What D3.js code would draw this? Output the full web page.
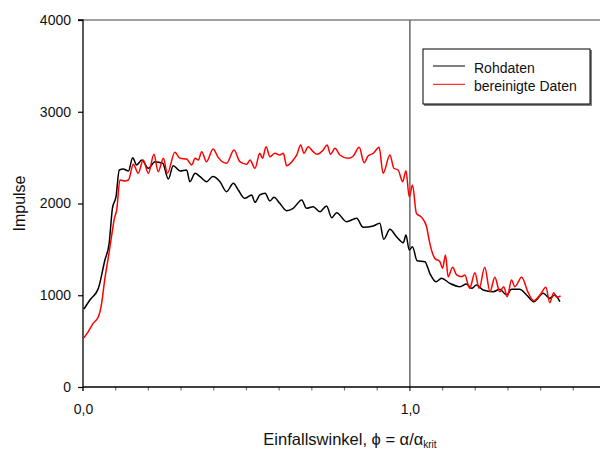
<!DOCTYPE html>
<html>
<head>
<meta charset="utf-8">
<script src="https://cdn.jsdelivr.net/npm/d3@7"></script>
<style>
  html, body { margin: 0; padding: 0; background: #fff; }
  svg { display: block; font-family: "Liberation Sans", Arial, sans-serif; }
</style>
</head>
<body>
<svg id="chart" width="600" height="450"></svg>
<script>
// Incidence angle (phi = alpha / alpha_crit) and counts for the raw measurement
const rawPhi = [0.003,0.021,0.047,0.067,0.080,0.090,0.101,0.111,0.123,0.139,0.152,0.164,0.180,0.200,0.220,0.244,0.261,0.276,0.297,0.317,0.327,0.343,0.358,0.378,0.397,0.419,0.439,0.460,0.475,0.495,0.516,0.526,0.541,0.557,0.572,0.584,0.602,0.623,0.643,0.669,0.684,0.704,0.725,0.745,0.761,0.776,0.806,0.837,0.857,0.888,0.908,0.920,0.939,0.959,0.980,0.988,0.998,1.008,1.022,1.046,1.061,1.080,1.097,1.122,1.153,1.173,1.189,1.204,1.224,1.255,1.275,1.296,1.311,1.336,1.357,1.379,1.408,1.428,1.443,1.459];
const rawCounts = [850,948,1075,1384,1566,1947,2074,2365,2376,2354,2500,2420,2474,2384,2456,2438,2267,2412,2354,2365,2238,2329,2293,2238,2293,2238,2129,2220,2147,2056,2093,2013,2093,2111,2027,2067,2002,1922,1947,2038,1947,1965,1911,1973,1845,1900,1802,1838,1740,1755,1784,1610,1719,1638,1573,1657,1493,1529,1377,1366,1239,1148,1185,1130,1093,1123,1075,1112,1057,1039,1065,1003,1065,1065,1003,930,1021,967,1003,930];

// Corrected counts
const cleanPhi = [0.003,0.016,0.031,0.047,0.057,0.067,0.077,0.088,0.096,0.103,0.113,0.128,0.139,0.154,0.169,0.184,0.200,0.217,0.230,0.246,0.258,0.281,0.297,0.317,0.332,0.343,0.353,0.363,0.378,0.398,0.414,0.439,0.462,0.480,0.501,0.511,0.526,0.541,0.549,0.560,0.572,0.587,0.602,0.613,0.623,0.643,0.654,0.666,0.676,0.689,0.704,0.716,0.735,0.747,0.757,0.771,0.786,0.811,0.827,0.845,0.860,0.872,0.888,0.906,0.918,0.939,0.951,0.964,0.978,0.988,0.998,1.008,1.020,1.036,1.051,1.061,1.076,1.092,1.100,1.109,1.117,1.131,1.143,1.158,1.168,1.183,1.199,1.212,1.229,1.245,1.260,1.275,1.287,1.298,1.311,1.321,1.342,1.362,1.379,1.398,1.416,1.428,1.440,1.449,1.461];
const cleanCounts = [537,603,694,766,912,1185,1403,1657,1838,1929,2256,2245,2256,2427,2329,2474,2329,2536,2347,2492,2329,2558,2492,2485,2420,2492,2474,2565,2456,2594,2500,2438,2583,2456,2427,2474,2384,2547,2492,2619,2510,2547,2529,2547,2412,2474,2529,2638,2547,2619,2565,2536,2583,2638,2536,2601,2529,2492,2518,2612,2445,2518,2547,2612,2329,2529,2384,2365,2238,2358,2074,2202,1893,1849,1747,1566,1403,1366,1294,1439,1202,1305,1221,1202,1221,1075,1246,1075,1305,1039,1196,1039,1093,984,1166,1093,1196,1028,941,1003,1087,919,1028,978,992];

const yTicks = [0, 1000, 2000, 3000, 4000];
const xMajorTicks = [0, 1];
const xMinorTicks = d3.range(1, 16).map(i => i / 10);
const seriesNames = ["Rohdaten", "bereinigte Daten"];
const seriesColors = ["#000000", "#ff0000"];

const svg = d3.select("#chart");
const plotLeft = 83, plotRight = 606, plotTop = 20, plotBottom = 387;

const x = d3.scaleLinear().domain([0, 1.6]).range([plotLeft, plotRight]);
const y = d3.scaleLinear().domain([0, 4000]).range([plotBottom, plotTop]);

// top frame line
svg.append("line")
  .attr("x1", plotLeft).attr("x2", 600)
  .attr("y1", y(4000)).attr("y2", y(4000))
  .attr("stroke", "#808080").attr("stroke-width", 1.5);

// minor ticks along x
svg.append("g").selectAll("line").data(xMinorTicks).join("line")
  .attr("x1", d => x(d)).attr("x2", d => x(d))
  .attr("y1", plotBottom).attr("y2", plotBottom + 3.5)
  .attr("stroke", "#777").attr("stroke-width", 1.2);

// vertical reference line at the critical angle
svg.append("line")
  .attr("x1", x(1)).attr("x2", x(1))
  .attr("y1", y(4000)).attr("y2", plotBottom + 4)
  .attr("stroke", "#666").attr("stroke-width", 1.5);

// y axis
const yAxis = d3.axisLeft(y).tickValues(yTicks).tickSize(5).tickPadding(7).tickFormat(d3.format("d"));
const gy = svg.append("g").attr("transform", `translate(${plotLeft},0)`).call(yAxis);
gy.select(".domain").attr("stroke", "#000").attr("stroke-width", 1.3).attr("d", `M-5,${plotTop}H0V${plotBottom + 4}`);
gy.selectAll(".tick line").attr("stroke", "#000").attr("stroke-width", 1.2);
gy.selectAll(".tick text").attr("font-size", 14).attr("fill", "#111")
  .attr("font-family", "Liberation Sans, Arial, sans-serif");

// x axis
const xAxis = d3.axisBottom(x).tickValues(xMajorTicks).tickSize(0).tickPadding(17)
  .tickFormat(d => d3.format(".1f")(d).replace(".", ","));
const gx = svg.append("g").attr("transform", `translate(0,${plotBottom})`).call(xAxis);
gx.select(".domain").attr("stroke", "#000").attr("stroke-width", 1.3).attr("d", `M${plotLeft},0H600`);
gx.selectAll(".tick text").attr("font-size", 14).attr("fill", "#111")
  .attr("font-family", "Liberation Sans, Arial, sans-serif");

// data lines
const line = d3.line().x(d => x(d[0])).y(d => y(d[1])).curve(d3.curveMonotoneX);
const rawData = d3.zip(rawPhi, rawCounts);
const cleanData = d3.zip(cleanPhi, cleanCounts);

svg.append("path").datum(rawData).attr("d", line)
  .attr("fill", "none").attr("stroke", seriesColors[0]).attr("stroke-width", 1.5);
svg.append("path").datum(cleanData).attr("d", line)
  .attr("fill", "none").attr("stroke", seriesColors[1]).attr("stroke-width", 1.5);

// axis titles
svg.append("text")
  .attr("transform", `translate(25,${(plotTop + plotBottom) / 2}) rotate(-90)`)
  .attr("text-anchor", "middle").attr("font-size", 16).attr("fill", "#111")
  .text("Impulse");

const xt = svg.append("text")
  .attr("x", 350).attr("y", 445)
  .attr("text-anchor", "middle").attr("font-size", 16.5).attr("fill", "#111");
xt.append("tspan").text("Einfallswinkel, ϕ = α/α");
xt.append("tspan").attr("font-size", 10).attr("dy", 3).text("krit");

// legend
const lg = svg.append("g");
lg.append("rect").attr("x", 424).attr("y", 50).attr("width", 168).attr("height", 56)
  .attr("fill", "#808080");
lg.append("rect").attr("x", 423).attr("y", 49).attr("width", 167).attr("height", 55)
  .attr("fill", "#fff").attr("stroke", "#000").attr("stroke-width", 1);
seriesNames.forEach((name, i) => {
  const ly = 66 + i * 18.3;
  lg.append("line").attr("x1", 433).attr("x2", 465).attr("y1", ly).attr("y2", ly)
    .attr("stroke", seriesColors[i]).attr("stroke-width", 1);
  lg.append("text").attr("x", 474).attr("y", ly + 7)
    .attr("font-size", 14).attr("fill", "#111").text(name);
});
</script>
</body>
</html>
